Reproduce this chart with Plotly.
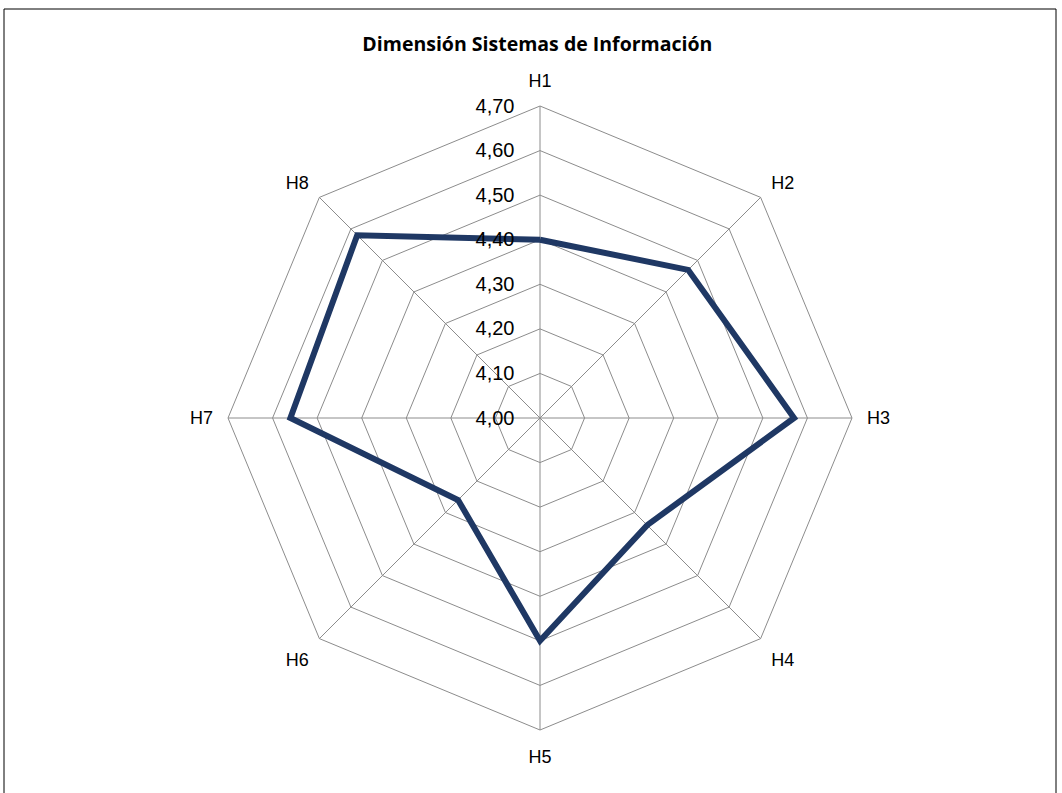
# Radar-Diagramm: Dimensión Sistemas de Información
import plotly.graph_objects as go

# Kategorien und Werte
categories = ["H1", "H2", "H3", "H4", "H5", "H6", "H7", "H8"]
values = [4.40, 4.47, 4.57, 4.34, 4.50, 4.26, 4.56, 4.58]
radial_ticks = [4.0, 4.1, 4.2, 4.3, 4.4, 4.5, 4.6, 4.7]

grid_color = "#8c8c8c"
line_color = "#1f3864"

fig = go.Figure()

# geschlossenes Polygon: ersten Punkt hinten anhängen
fig.add_trace(go.Scatterpolar(
    r=values + values[:1],
    theta=categories + categories[:1],
    mode="lines",
    line=dict(color=line_color, width=6),
    showlegend=False,
    hoverinfo="skip",
))

fig.update_layout(
    width=1062,
    height=793,
    margin=dict(l=0, r=0, t=0, b=0),
    paper_bgcolor="white",
    plot_bgcolor="white",
    separators=",.",
    font=dict(family="Liberation Sans, Arial, sans-serif", size=18, color="black"),
    title=dict(
        text="<b>Dimensión Sistemas de Información</b>",
        x=0.506, xanchor="center",
        y=0.9445, yanchor="middle",
        font=dict(family="Open Sans, sans-serif", size=19.5, color="black"),
    ),
    polar=dict(
        domain=dict(x=[228 / 1062, 852 / 1062], y=[63 / 793, 687 / 793]),
        bgcolor="white",
        gridshape="linear",
        angularaxis=dict(
            rotation=90,
            direction="clockwise",
            categoryorder="array",
            categoryarray=categories,
            showline=True,
            linecolor=grid_color,
            linewidth=1,
            gridcolor=grid_color,
            gridwidth=1,
            ticks="outside",
            ticklen=11,
            tickcolor="rgba(0,0,0,0)",
            tickfont=dict(size=18),
        ),
        radialaxis=dict(
            range=[4.0, 4.7],
            tickvals=radial_ticks,
            tickformat=".2f",
            angle=90,
            tickangle=90,
            side="counterclockwise",
            showline=False,
            gridcolor=grid_color,
            gridwidth=1,
            ticks="outside",
            ticklen=18,
            tickcolor="rgba(0,0,0,0)",
            tickfont=dict(size=20),
        ),
    ),
    shapes=[
        dict(
            type="rect", xref="paper", yref="paper",
            x0=4 / 1062, x1=1056 / 1062, y0=-0.05, y1=1 - 9 / 793,
            line=dict(color="black", width=1),
            fillcolor="rgba(0,0,0,0)",
            layer="below",
        )
    ],
)

# Standard-Rand der Seite entfernen, damit die Grafik bei (0,0) beginnt
fig.write_html(
    "out.html",
    config={"displayModeBar": False},
    post_script="document.body.style.margin='0';",
)
